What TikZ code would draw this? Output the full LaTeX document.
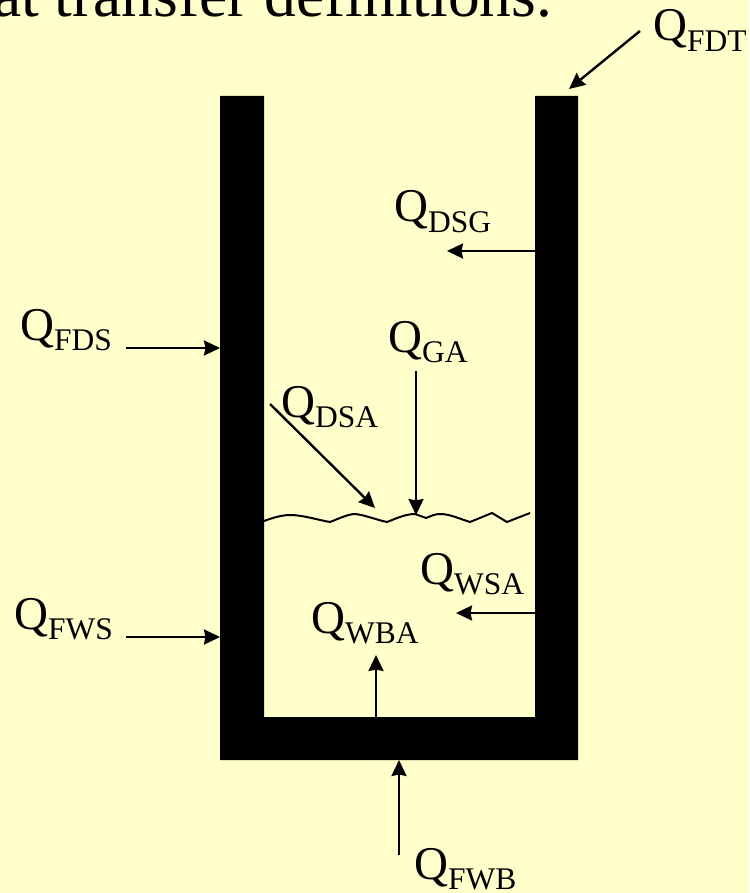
\documentclass[tikz,border=0pt]{standalone}
\usepackage{fontspec}
\setmainfont{Liberation Serif}
\usetikzlibrary{arrows.meta}

\definecolor{slidebg}{HTML}{FFFFCC}
\newcommand{\heatq}[1]{Q\raisebox{-0.23em}{\fontsize{31.5}{31.5}\selectfont #1}}
\tikzset{
	heatlabel/.style = {anchor = base west, inner sep = 0pt, font = \fontsize{47}{47}\selectfont},
	heatarrow/.style = {line width = 2.4pt, -{Stealth[length = 16pt, width = 15pt, inset = 1.5pt]}}
}

\begin{document}
\begin{tikzpicture}[x = 1pt, y = -1pt]
		\useasboundingbox (0, 0) rectangle (749, 893);
		\clip (0, 0) rectangle (749, 893);
		\fill[slidebg] (0, 0) rectangle (749, 893);
		\node[anchor = base west, inner sep = 0pt, font = \fontsize{63.5}{63.5}\selectfont] (title) at (-7, 17) {at transfer definitions.};
		% vessel
		\fill (220, 96) -- (264, 96) -- (264, 717) -- (535, 717) -- (535, 96) -- (578, 96) -- (578, 760) -- (220, 760) -- cycle;
		% surface
		\draw[line width = 2pt] (264, 521) .. controls (272, 518) and (282, 515) .. (290, 515) .. controls (303, 515) and (318, 520) .. (330, 522) .. controls (338, 519) and (348, 514) .. (355, 514) .. controls (365, 515) and (377, 520) .. (387, 522) .. controls (395, 519) and (405, 514) .. (415, 514) -- (426, 518) .. controls (431, 516) and (435, 514) .. (440, 514) .. controls (450, 514) and (460, 519) .. (470, 522) -- (492, 513) -- (507, 522) -- (530, 513);
		% labels
		\node[heatlabel] (qfdt) at (653, 41) {\heatq{FDT}};
		\node[heatlabel] (qdsg) at (394, 222) {\heatq{DSG}};
		\node[heatlabel] (qfds) at (20, 340) {\heatq{FDS}};
		\node[heatlabel] (qga) at (388, 352) {\heatq{GA}};
		\node[heatlabel] (qdsa) at (281, 417) {\heatq{DSA}};
		\node[heatlabel] (qwsa) at (420, 584) {\heatq{WSA}};
		\node[heatlabel] (qfws) at (14, 629) {\heatq{FWS}};
		\node[heatlabel] (qwba) at (311, 633) {\heatq{WBA}};
		\node[heatlabel] (qfwb) at (414, 879) {\heatq{FWB}};
		% arrow ends
		\coordinate (fdtstart) at (640, 31);
		\coordinate (fdtend) at (569, 89);
		\coordinate (dsgstart) at (535, 251);
		\coordinate (dsgend) at (447, 251);
		\coordinate (fdsstart) at (126, 348);
		\coordinate (fdsend) at (220, 348);
		\coordinate (gastart) at (416, 371);
		\coordinate (gaend) at (416, 515);
		\coordinate (dsastart) at (270, 404);
		\coordinate (dsaend) at (375, 508);
		\coordinate (wsastart) at (535, 613);
		\coordinate (wsaend) at (456, 613);
		\coordinate (fwsstart) at (126, 637);
		\coordinate (fwsend) at (220, 637);
		\coordinate (wbastart) at (376, 717);
		\coordinate (wbaend) at (376, 655);
		\coordinate (fwbstart) at (399, 855);
		\coordinate (fwbend) at (399, 760);
		\foreach \a in {fdt, dsg, fds, ga, dsa, wsa, fws, wba, fwb}
			\draw[heatarrow] (\a start) -- (\a end);
		\end{tikzpicture}
\end{document}
